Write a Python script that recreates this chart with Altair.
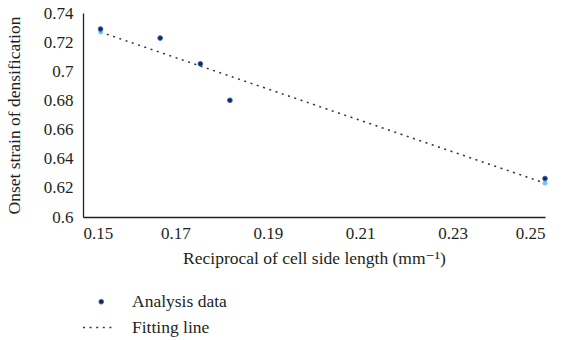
import altair as alt
import pandas as pd

# Reciprocal of cell side length (mm^-1) and onset strain of densification
x_vals = [0.1538, 0.1667, 0.1754, 0.1818, 0.25]
y_vals = [0.729, 0.7228, 0.7051, 0.6801, 0.6264]
x_ticks = [0.15, 0.17, 0.19, 0.21, 0.23, 0.25]
y_ticks = [0.6, 0.62, 0.64, 0.66, 0.68, 0.7, 0.72, 0.74]
series_points = "Analysis data"
series_line = "Fitting line"

df = pd.DataFrame({"x": x_vals, "y": y_vals, "series": series_points})

FONT = "'Liberation Serif', 'Times New Roman', 'DejaVu Serif', serif"
TXT = "#231f20"
NAVY = "#17244f"
EDGE = "#3566b8"
LIGHT = "#6cc6f0"

xenc = alt.X(
    "x:Q",
    scale=alt.Scale(domain=[0.15, 0.25], nice=False, zero=False),
    axis=alt.Axis(
        values=x_ticks, format=".2f", grid=False, ticks=False,
        labelPadding=8, title="Reciprocal of cell side length (mm⁻¹)",
        titlePadding=8,
    ),
)
yenc = alt.Y(
    "y:Q",
    scale=alt.Scale(domain=[0.6, 0.74], nice=False, zero=False),
    axis=alt.Axis(
        values=y_ticks, format=".2~f", grid=False, ticks=False,
        labelPadding=10, title="Onset strain of densification",
        titlePadding=20,
    ),
)

base = alt.Chart(df)

fit = base.transform_regression("x", "y").transform_calculate(series=f"'{series_line}'")

line = fit.mark_line(color="#333333", strokeWidth=1.5).encode(
    x=xenc, y=yenc,
    strokeDash=alt.StrokeDash(
        "series:N",
        scale=alt.Scale(domain=[series_line], range=[[2, 4.6]]),
        legend=alt.Legend(
            title=None, orient="none", legendX=-1, legendY=298,
            symbolType="stroke", symbolSize=961, symbolStrokeColor="#333333",
            symbolStrokeWidth=1.5, labelOffset=17, padding=0,
        ),
    ),
)

fit_pts = fit.mark_point(filled=True, size=22, color=LIGHT, opacity=1).encode(x=xenc, y=yenc)

pts = base.mark_point(filled=True, size=22, opacity=1, stroke=EDGE, strokeWidth=1).encode(
    x=xenc, y=yenc,
    fill=alt.Fill(
        "series:N",
        scale=alt.Scale(domain=[series_points], range=[NAVY]),
        legend=alt.Legend(
            title=None, orient="none", legendX=9.5, legendY=280,
            symbolType="circle", symbolSize=22, symbolFillColor=NAVY,
            symbolStrokeColor=EDGE, symbolStrokeWidth=1, symbolOpacity=1,
            labelOffset=22, padding=0,
        ),
    ),
)

chart = (
    alt.layer(line, fit_pts, pts)
    .resolve_legend(strokeDash="independent", fill="independent")
    .properties(
        width=462, height=204,
        autosize=alt.AutoSizeParams(type="none"),
        padding={"left": 83, "top": 13, "right": 26, "bottom": 123},
    )
    .configure_view(stroke=None)
    .configure_axis(
        domainColor="#222222", domainWidth=1.3,
        labelFont=FONT, labelFontSize=17, labelColor=TXT,
        titleFont=FONT, titleFontSize=17.5, titleColor=TXT, titleFontWeight="normal",
    )
    .configure_legend(labelFont=FONT, labelFontSize=17.5, labelColor=TXT)
)

chart.save("out.html", embed_options={"renderer": "svg", "actions": False})
